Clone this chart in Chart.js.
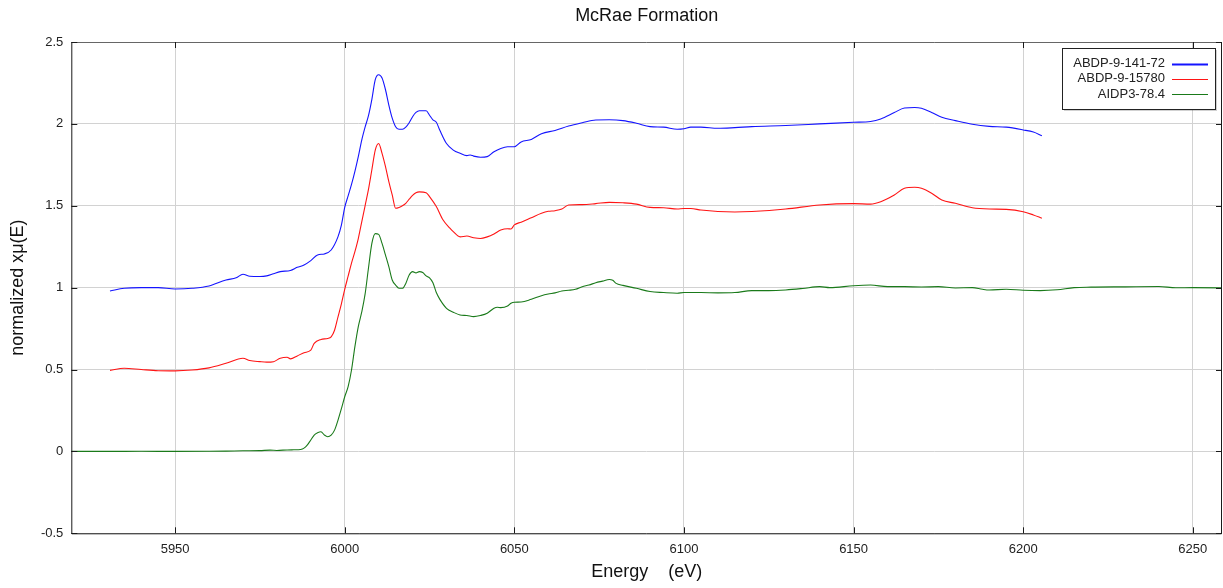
<!DOCTYPE html>
<html>
<head>
<meta charset="utf-8">
<script src="https://cdn.jsdelivr.net/npm/chart.js@4.4.1/dist/chart.umd.min.js"></script>
<style>
  body { margin: 0; background: #fff; }
  #wrap { width: 1223px; height: 588px; }
</style>
</head>
<body>
<div id="wrap"><canvas id="xanesChart" width="1223" height="588"></canvas></div>
<script>
// series labels and colours
const seriesNames = ["ABDP-9-141-72", "ABDP-9-15780", "AIDP3-78.4"];
const seriesColors = ["#1414ff", "#ff1414", "#1a7a1a"];

// x axis ticks (eV) and y axis limits
const energyTicks = [5950, 6000, 6050, 6100, 6150, 6200, 6250];
const energyRange = [5919.4, 6258.6];
const muRange = [-0.5, 2.5];

// [energy (eV), normalized xmu(E)]
const abdp14172 = [
  [5930.8, 0.98], [5935, 0.996], [5940, 1.0], [5945, 1.0], [5950, 0.992], [5955, 0.996],
  [5960, 1.01], [5965, 1.047], [5968, 1.06], [5970, 1.082], [5972, 1.07], [5975, 1.068],
  [5977, 1.072], [5979, 1.085], [5981, 1.098], [5984, 1.105], [5986, 1.124], [5988, 1.138],
  [5990, 1.165], [5992, 1.2], [5994, 1.206], [5996, 1.23], [5998, 1.31], [5999, 1.38],
  [6000, 1.49], [6001, 1.56], [6002, 1.63], [6003, 1.71], [6004, 1.8], [6005, 1.9],
  [6006, 1.98], [6007, 2.05], [6008, 2.15], [6009, 2.27], [6010, 2.3], [6011, 2.28],
  [6012, 2.21], [6013, 2.115], [6014, 2.035], [6015, 1.983], [6016, 1.967], [6017, 1.967],
  [6018, 1.98], [6019, 2.007], [6020, 2.044], [6021, 2.07], [6022, 2.08], [6024, 2.08],
  [6025, 2.053], [6026, 2.024], [6027, 2.01], [6028, 1.963], [6030, 1.88], [6032, 1.84],
  [6034, 1.82], [6036, 1.806], [6037, 1.81], [6038, 1.803], [6040, 1.796], [6042, 1.8],
  [6044, 1.83], [6046, 1.85], [6048, 1.86], [6050, 1.86], [6052, 1.89], [6055, 1.905],
  [6058, 1.94], [6062, 1.96], [6066, 1.987], [6070, 2.007], [6074, 2.024], [6078, 2.025],
  [6082, 2.02], [6086, 2.004], [6090, 1.983], [6094, 1.98], [6098, 1.967], [6100, 1.97],
  [6102, 1.98], [6105, 1.98], [6110, 1.973], [6115, 1.977], [6120, 1.983], [6130, 1.99],
  [6140, 2.0], [6150, 2.01], [6155, 2.015], [6158, 2.03], [6162, 2.069], [6165, 2.097],
  [6168, 2.1], [6170, 2.095], [6173, 2.07], [6176, 2.04], [6180, 2.02], [6185, 1.998],
  [6190, 1.985], [6195, 1.98], [6200, 1.963], [6203, 1.95], [6205.5, 1.928]
];

const abdp15780 = [
  [5930.8, 0.495], [5935, 0.508], [5940, 0.5], [5945, 0.493], [5950, 0.492], [5955, 0.497],
  [5960, 0.51], [5965, 0.538], [5970, 0.569], [5972, 0.555], [5975, 0.548], [5977, 0.545],
  [5979, 0.548], [5981, 0.569], [5983, 0.575], [5984, 0.565], [5986, 0.583], [5988, 0.603],
  [5990, 0.618], [5991, 0.66], [5993, 0.684], [5995, 0.69], [5996, 0.7], [5997, 0.74],
  [5998, 0.82], [5999, 0.9], [6000, 0.99], [6001, 1.07], [6002, 1.15], [6003, 1.22],
  [6004, 1.3], [6005, 1.4], [6006, 1.5], [6007, 1.6], [6008, 1.72], [6009, 1.84],
  [6010, 1.88], [6011, 1.82], [6012, 1.74], [6013, 1.647], [6014, 1.566], [6015, 1.485],
  [6016, 1.49], [6017, 1.5], [6018, 1.515], [6019, 1.54], [6020, 1.564], [6021, 1.58],
  [6022, 1.585], [6024, 1.58], [6025, 1.556], [6027, 1.495], [6029, 1.413], [6031, 1.363],
  [6032, 1.342], [6034, 1.31], [6036, 1.315], [6038, 1.305], [6040, 1.3], [6042, 1.31],
  [6044, 1.328], [6046, 1.352], [6048, 1.36], [6049, 1.358], [6050, 1.383], [6052, 1.4],
  [6055, 1.427], [6058, 1.454], [6060, 1.466], [6062, 1.47], [6064, 1.48], [6066, 1.505],
  [6070, 1.507], [6074, 1.513], [6078, 1.521], [6082, 1.518], [6086, 1.51], [6090, 1.49],
  [6094, 1.488], [6098, 1.48], [6100, 1.483], [6102, 1.483], [6105, 1.474], [6110, 1.465],
  [6115, 1.462], [6120, 1.465], [6130, 1.48], [6140, 1.505], [6150, 1.513], [6155, 1.51],
  [6158, 1.525], [6162, 1.566], [6165, 1.607], [6168, 1.613], [6170, 1.607], [6173, 1.577],
  [6176, 1.535], [6180, 1.515], [6185, 1.488], [6190, 1.48], [6195, 1.478], [6200, 1.464],
  [6203, 1.444], [6205.5, 1.424]
];

const aidp3784 = [
  [5915, 0.0], [5930, 0.0], [5940, 0.001], [5950, 0.0], [5960, 0.001], [5965, 0.002],
  [5970, 0.004], [5975, 0.005], [5978, 0.008], [5980, 0.006], [5983, 0.009], [5985, 0.01],
  [5987, 0.012], [5988, 0.02], [5989, 0.04], [5990, 0.07], [5991, 0.1], [5992, 0.114],
  [5993, 0.12], [5994, 0.1], [5995, 0.09], [5996, 0.1], [5997, 0.13], [5998, 0.19],
  [5999, 0.26], [6000, 0.334], [6001, 0.395], [6002, 0.497], [6003, 0.64], [6004, 0.762],
  [6005, 0.85], [6006, 0.96], [6007, 1.12], [6008, 1.27], [6009, 1.33], [6010, 1.325],
  [6011, 1.27], [6012, 1.2], [6013, 1.128], [6014, 1.047], [6015, 1.016], [6016, 0.996],
  [6017, 0.996], [6018, 1.026], [6019, 1.077], [6020, 1.098], [6021, 1.09], [6022, 1.098],
  [6023, 1.092], [6024, 1.072], [6025, 1.06], [6026, 1.03], [6027, 0.97], [6028, 0.93],
  [6030, 0.874], [6032, 0.85], [6034, 0.833], [6036, 0.83], [6038, 0.823], [6040, 0.83],
  [6042, 0.844], [6044, 0.874], [6045, 0.88], [6046, 0.878], [6048, 0.888], [6049, 0.905],
  [6050, 0.911], [6052, 0.912], [6055, 0.929], [6058, 0.951], [6060, 0.961], [6062, 0.968],
  [6064, 0.98], [6066, 0.984], [6068, 0.99], [6070, 1.006], [6072, 1.016], [6074, 1.03],
  [6076, 1.04], [6078, 1.05], [6079, 1.045], [6080, 1.026], [6082, 1.014], [6086, 0.996],
  [6090, 0.976], [6094, 0.97], [6098, 0.966], [6100, 0.97], [6102, 0.97], [6105, 0.97],
  [6110, 0.968], [6115, 0.97], [6120, 0.982], [6125, 0.982], [6130, 0.986], [6135, 0.995],
  [6140, 1.006], [6143, 1.0], [6150, 1.012], [6155, 1.016], [6160, 1.006], [6165, 1.006],
  [6170, 1.004], [6175, 1.006], [6180, 0.998], [6185, 1.0], [6188, 0.99], [6190, 0.986],
  [6195, 0.99], [6200, 0.984], [6205, 0.982], [6210, 0.987], [6215, 1.0], [6220, 1.003],
  [6230, 1.005], [6240, 1.007], [6245, 0.999], [6250, 1.0], [6262, 0.998]
];

const allSeries = [abdp14172, abdp15780, aidp3784];
const FONT = "'Liberation Sans', Arial, sans-serif";

// frame with inward ticks + boxed legend (legend text on the left of the line sample)
const framePlugin = {
  id: "frame",
  afterDraw(chart) {
    const { ctx, chartArea: a, scales } = chart;
    ctx.save();
    ctx.lineWidth = 1;
    ctx.strokeStyle = "#1a1a1a";
    ctx.beginPath();
    ctx.moveTo(a.left + 0.5, a.top);
    ctx.lineTo(a.left + 0.5, a.bottom + 0.5);
    ctx.lineTo(a.right - 0.5, a.bottom + 0.5);
    ctx.lineTo(a.right - 0.5, a.top);
    ctx.stroke();
    ctx.strokeStyle = "#666";
    ctx.beginPath();
    ctx.moveTo(a.left, a.top + 0.5);
    ctx.lineTo(a.right, a.top + 0.5);
    ctx.stroke();

    // tick marks pointing into the plot
    ctx.strokeStyle = "#1a1a1a";
    ctx.beginPath();
    scales.x.ticks.forEach((t) => {
      const x = Math.round(scales.x.getPixelForValue(t.value)) + 0.5;
      ctx.moveTo(x, a.bottom); ctx.lineTo(x, a.bottom - 6);
      ctx.moveTo(x, a.top); ctx.lineTo(x, a.top + 6);
    });
    scales.y.ticks.forEach((t) => {
      const y = Math.round(scales.y.getPixelForValue(t.value)) + 0.5;
      ctx.moveTo(a.left, y); ctx.lineTo(a.left + 6, y);
      ctx.moveTo(a.right, y); ctx.lineTo(a.right - 6, y);
    });
    ctx.stroke();

    // legend box
    const bw = 153, bh = 61;
    const bx = a.right - 7 - bw, by = a.top + 6;
    ctx.fillStyle = "rgba(0,0,0,0.18)";
    ctx.fillRect(bx + 2, by + 2, bw, bh);
    ctx.fillStyle = "#fff";
    ctx.fillRect(bx, by, bw, bh);
    ctx.strokeStyle = "#222";
    ctx.strokeRect(bx + 0.5, by + 0.5, bw, bh);
    ctx.font = "13px " + FONT;
    ctx.textAlign = "right";
    ctx.textBaseline = "middle";
    chart.data.datasets.forEach((ds, i) => {
      const y = by + 15.5 + i * 15.3;
      ctx.fillStyle = "#222";
      ctx.fillText(ds.label, bx + bw - 50, y);
      ctx.strokeStyle = ds.borderColor;
      ctx.lineWidth = i === 0 ? 1.8 : 1.2;
      ctx.beginPath();
      ctx.moveTo(bx + bw - 43, Math.round(y) + 0.5);
      ctx.lineTo(bx + bw - 7, Math.round(y) + 0.5);
      ctx.stroke();
    });
    ctx.restore();
  }
};

const datasets = allSeries.map((pts, i) => ({
  label: seriesNames[i],
  data: pts.map(([e, m]) => ({ x: e, y: m })),
  borderColor: seriesColors[i],
  borderWidth: 1.1,
  pointRadius: 0,
  fill: false,
  cubicInterpolationMode: "monotone"
}));

new Chart(document.getElementById("xanesChart"), {
  type: "line",
  data: { datasets },
  options: {
    responsive: false,
    animation: false,
    events: [],
    layout: { padding: { left: 0, right: 1, top: 0, bottom: 0 } },
    plugins: {
      legend: { display: false },
      tooltip: { enabled: false },
      title: {
        display: true,
        text: "McRae Formation",
        fullSize: false,
        color: "#111",
        font: { family: FONT, size: 18, weight: "normal" },
        padding: { top: 5, bottom: 15.4 }
      }
    },
    scales: {
      x: {
        type: "linear",
        min: energyRange[0],
        max: energyRange[1],
        afterBuildTicks: (scale) => {
          scale.ticks = energyTicks.map((v) => ({ value: v }));
        },
        afterFit: (scale) => { scale.height = 54.7; },
        grid: { color: "#d2d2d2", lineWidth: 1, drawTicks: false },
        border: { display: false },
        ticks: {
          padding: 8,
          color: "#222",
          font: { family: FONT, size: 13 },
          callback: (v) => String(v)
        },
        title: {
          display: true,
          text: "Energy    (eV)",
          color: "#111",
          font: { family: FONT, size: 18 },
          padding: { top: 0, bottom: 5 }
        }
      },
      y: {
        min: muRange[0],
        max: muRange[1],
        afterFit: (scale) => { scale.width = 71.3; },
        grid: { color: "#d2d2d2", lineWidth: 1, drawTicks: false },
        border: { display: false },
        ticks: {
          stepSize: 0.5,
          padding: 8,
          color: "#222",
          font: { family: FONT, size: 13 },
          callback: (v) => String(Math.round(v * 10) / 10)
        },
        title: {
          display: true,
          text: "normalized xμ(E)",
          color: "#111",
          font: { family: FONT, size: 18 },
          padding: { top: 7, bottom: 0 }
        }
      }
    }
  },
  plugins: [framePlugin]
});
</script>
</body>
</html>
